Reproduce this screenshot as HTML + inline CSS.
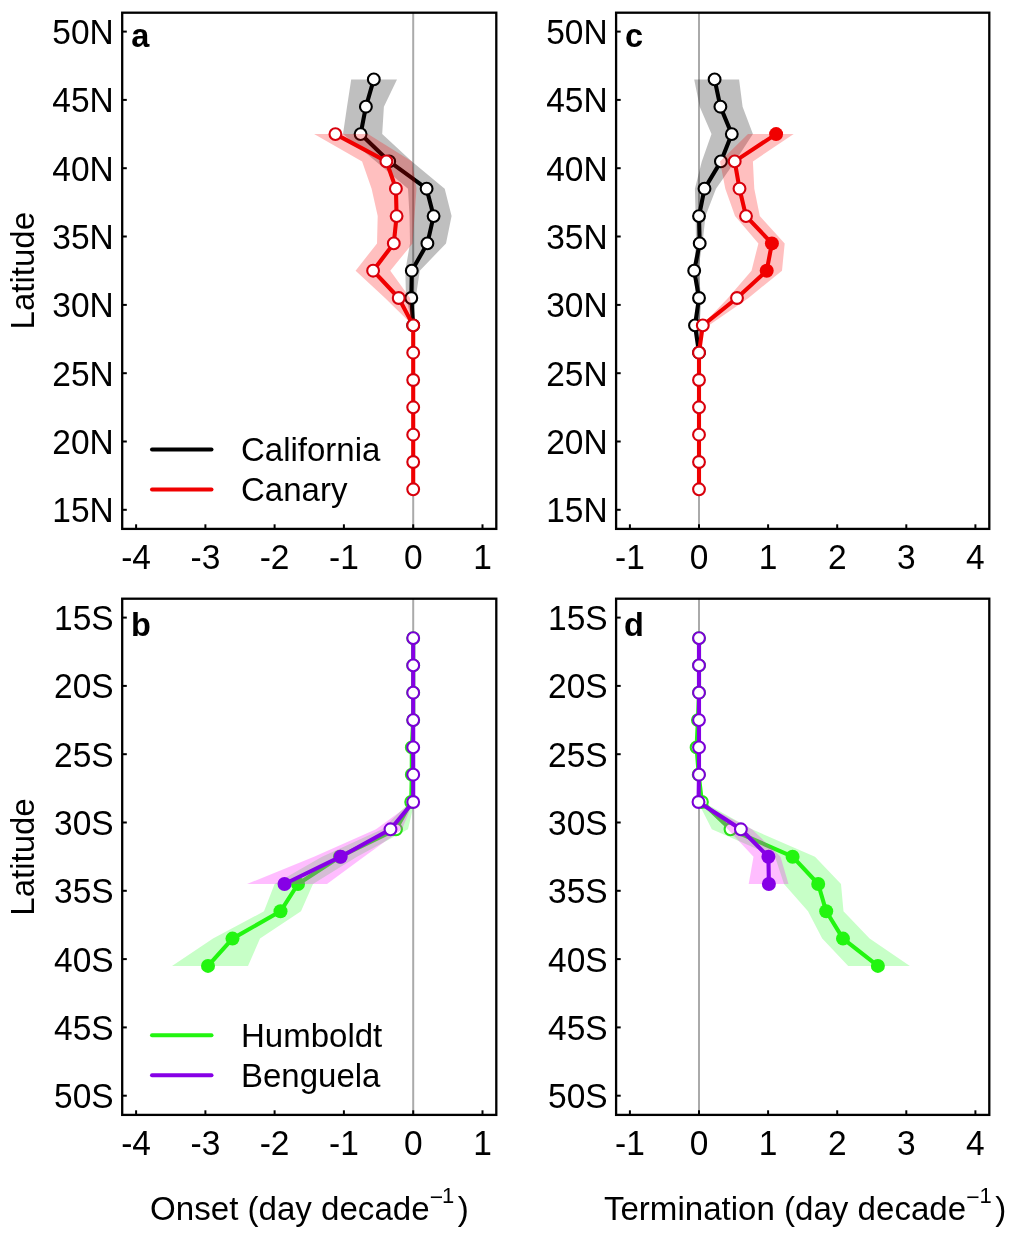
<!DOCTYPE html>
<html><head><meta charset="utf-8"><title>Upwelling onset and termination trends</title>
<style>html,body{margin:0;padding:0;background:#fff;}svg{display:block;}</style>
</head><body>
<svg width="1013" height="1237" viewBox="0 0 1013 1237">
<style>.t{font-family:"Liberation Sans", sans-serif;font-size:33.5px;fill:#000}.b{font-weight:bold;font-size:32.5px}.l{font-size:33px}.ti{font-size:33.1px}.m{font-size:23px}.s{font-size:22px}</style>
<rect width="1013" height="1237" fill="#fff"/>
<line x1="413.2" y1="12.7" x2="413.2" y2="528.9" stroke="#aaa" stroke-width="2"/>
<polygon points="351.2,79.4 347,106.7 343,134.1 376,161.4 408,188.7 409.5,216.1 410,243.4 405.3,270.7 406,298 413,325.4 413.5,325.4 415.7,298 419.8,270.7 446,243.4 451.6,216.1 444.7,188.7 411.9,161.4 382.2,134.1 383.9,106.7 397,79.4" fill="#000" fill-opacity="0.25"/>
<polyline points="373.8,79.4 365.9,106.7 360.6,134.1 389.2,161.4 426.6,188.7 433.6,216.1 427.4,243.4 411.8,270.7 411.3,298 413.2,325.4" fill="none" stroke="#000000" stroke-width="4.1" stroke-linejoin="round" stroke-linecap="round"/>
<circle cx="373.8" cy="79.4" r="5.9" fill="#fff" stroke="#000000" stroke-width="2.1"/>
<circle cx="365.9" cy="106.7" r="5.9" fill="#fff" stroke="#000000" stroke-width="2.1"/>
<circle cx="360.6" cy="134.1" r="5.9" fill="#fff" stroke="#000000" stroke-width="2.1"/>
<circle cx="389.2" cy="161.4" r="5.9" fill="#fff" stroke="#000000" stroke-width="2.1"/>
<circle cx="426.6" cy="188.7" r="5.9" fill="#fff" stroke="#000000" stroke-width="2.1"/>
<circle cx="433.6" cy="216.1" r="5.9" fill="#fff" stroke="#000000" stroke-width="2.1"/>
<circle cx="427.4" cy="243.4" r="5.9" fill="#fff" stroke="#000000" stroke-width="2.1"/>
<circle cx="411.8" cy="270.7" r="5.9" fill="#fff" stroke="#000000" stroke-width="2.1"/>
<circle cx="411.3" cy="298" r="5.9" fill="#fff" stroke="#000000" stroke-width="2.1"/>
<circle cx="413.2" cy="325.4" r="5.9" fill="#fff" stroke="#000000" stroke-width="2.1"/>
<polygon points="314.1,134.1 362.1,161.4 371.6,188.7 377.7,216.1 377,243.4 355.6,270.7 385,298 413,325.4 413.5,325.4 410,298 390.3,270.7 412.5,243.4 414.5,216.1 416.5,188.7 412,161.4 368,134.1" fill="#f00" fill-opacity="0.25"/>
<polyline points="335.4,134.1 386.4,161.4 395.9,188.7 396.6,216.1 393.8,243.4 373.1,270.7 398.7,298 413.2,325.4 413.2,352.7 413.2,380 413.2,407.3 413.2,434.7 413.2,462 413.2,489.3" fill="none" stroke="#f00000" stroke-width="4.1" stroke-linejoin="round" stroke-linecap="round"/>
<circle cx="335.4" cy="134.1" r="5.9" fill="#fff" stroke="#d8000c" stroke-width="2.1"/>
<circle cx="386.4" cy="161.4" r="5.9" fill="#fff" stroke="#d8000c" stroke-width="2.1"/>
<circle cx="395.9" cy="188.7" r="5.9" fill="#fff" stroke="#d8000c" stroke-width="2.1"/>
<circle cx="396.6" cy="216.1" r="5.9" fill="#fff" stroke="#d8000c" stroke-width="2.1"/>
<circle cx="393.8" cy="243.4" r="5.9" fill="#fff" stroke="#d8000c" stroke-width="2.1"/>
<circle cx="373.1" cy="270.7" r="5.9" fill="#fff" stroke="#d8000c" stroke-width="2.1"/>
<circle cx="398.7" cy="298" r="5.9" fill="#fff" stroke="#d8000c" stroke-width="2.1"/>
<circle cx="413.2" cy="325.4" r="5.9" fill="#fff" stroke="#d8000c" stroke-width="2.1"/>
<circle cx="413.2" cy="352.7" r="5.9" fill="#fff" stroke="#d8000c" stroke-width="2.1"/>
<circle cx="413.2" cy="380" r="5.9" fill="#fff" stroke="#d8000c" stroke-width="2.1"/>
<circle cx="413.2" cy="407.3" r="5.9" fill="#fff" stroke="#d8000c" stroke-width="2.1"/>
<circle cx="413.2" cy="434.7" r="5.9" fill="#fff" stroke="#d8000c" stroke-width="2.1"/>
<circle cx="413.2" cy="462" r="5.9" fill="#fff" stroke="#d8000c" stroke-width="2.1"/>
<circle cx="413.2" cy="489.3" r="5.9" fill="#fff" stroke="#d8000c" stroke-width="2.1"/>
<rect x="122.2" y="12.7" width="374.1" height="516.2" fill="none" stroke="#000" stroke-width="2.3"/>
<line x1="122.2" y1="31.6" x2="126.8" y2="31.6" stroke="#000" stroke-width="2"/>
<text transform="translate(113.7,44) scale(1,1.035)" text-anchor="end" class="t">50N</text>
<line x1="122.2" y1="99.9" x2="126.8" y2="99.9" stroke="#000" stroke-width="2"/>
<text transform="translate(113.7,112.3) scale(1,1.035)" text-anchor="end" class="t">45N</text>
<line x1="122.2" y1="168.2" x2="126.8" y2="168.2" stroke="#000" stroke-width="2"/>
<text transform="translate(113.7,180.6) scale(1,1.035)" text-anchor="end" class="t">40N</text>
<line x1="122.2" y1="236.5" x2="126.8" y2="236.5" stroke="#000" stroke-width="2"/>
<text transform="translate(113.7,248.9) scale(1,1.035)" text-anchor="end" class="t">35N</text>
<line x1="122.2" y1="304.9" x2="126.8" y2="304.9" stroke="#000" stroke-width="2"/>
<text transform="translate(113.7,317.3) scale(1,1.035)" text-anchor="end" class="t">30N</text>
<line x1="122.2" y1="373.2" x2="126.8" y2="373.2" stroke="#000" stroke-width="2"/>
<text transform="translate(113.7,385.6) scale(1,1.035)" text-anchor="end" class="t">25N</text>
<line x1="122.2" y1="441.5" x2="126.8" y2="441.5" stroke="#000" stroke-width="2"/>
<text transform="translate(113.7,453.9) scale(1,1.035)" text-anchor="end" class="t">20N</text>
<line x1="122.2" y1="509.8" x2="126.8" y2="509.8" stroke="#000" stroke-width="2"/>
<text transform="translate(113.7,522.2) scale(1,1.035)" text-anchor="end" class="t">15N</text>
<line x1="136.1" y1="528.9" x2="136.1" y2="524.3" stroke="#000" stroke-width="2"/>
<text transform="translate(136.1,568.9) scale(1,1.035)" text-anchor="middle" class="t">-4</text>
<line x1="205.4" y1="528.9" x2="205.4" y2="524.3" stroke="#000" stroke-width="2"/>
<text transform="translate(205.4,568.9) scale(1,1.035)" text-anchor="middle" class="t">-3</text>
<line x1="274.6" y1="528.9" x2="274.6" y2="524.3" stroke="#000" stroke-width="2"/>
<text transform="translate(274.6,568.9) scale(1,1.035)" text-anchor="middle" class="t">-2</text>
<line x1="343.9" y1="528.9" x2="343.9" y2="524.3" stroke="#000" stroke-width="2"/>
<text transform="translate(343.9,568.9) scale(1,1.035)" text-anchor="middle" class="t">-1</text>
<line x1="413.2" y1="528.9" x2="413.2" y2="524.3" stroke="#000" stroke-width="2"/>
<text transform="translate(413.2,568.9) scale(1,1.035)" text-anchor="middle" class="t">0</text>
<line x1="482.5" y1="528.9" x2="482.5" y2="524.3" stroke="#000" stroke-width="2"/>
<text transform="translate(482.5,568.9) scale(1,1.035)" text-anchor="middle" class="t">1</text>
<text x="131.2" y="46.9" class="t b">a</text>
<line x1="152" y1="449.5" x2="211.5" y2="449.5" stroke="#000" stroke-width="4" stroke-linecap="round"/>
<line x1="152" y1="489.4" x2="211.5" y2="489.4" stroke="#f00000" stroke-width="4" stroke-linecap="round"/>
<text x="241" y="461.3" class="t l">California</text>
<text x="241" y="501.3" class="t l">Canary</text>
<line x1="699" y1="12.7" x2="699" y2="528.9" stroke="#aaa" stroke-width="2"/>
<polygon points="694.2,79.4 699.7,106.7 711.5,134.1 701.8,161.4 694.9,188.7 695.6,216.1 696,243.4 693.5,270.7 696,298 697,325.4 699.5,325.4 701.5,298 698,270.7 702.5,243.4 705.5,216.1 716,188.7 735,161.4 752.9,134.1 742.6,106.7 739.1,79.4" fill="#000" fill-opacity="0.25"/>
<polyline points="714.6,79.4 720.4,106.7 731.8,134.1 720.9,161.4 704.5,188.7 699,216.1 699.7,243.4 694.2,270.7 699,298 695,325.4 699,352.7" fill="none" stroke="#000000" stroke-width="4.1" stroke-linejoin="round" stroke-linecap="round"/>
<circle cx="714.6" cy="79.4" r="5.9" fill="#fff" stroke="#000000" stroke-width="2.1"/>
<circle cx="720.4" cy="106.7" r="5.9" fill="#fff" stroke="#000000" stroke-width="2.1"/>
<circle cx="731.8" cy="134.1" r="5.9" fill="#fff" stroke="#000000" stroke-width="2.1"/>
<circle cx="720.9" cy="161.4" r="5.9" fill="#fff" stroke="#000000" stroke-width="2.1"/>
<circle cx="704.5" cy="188.7" r="5.9" fill="#fff" stroke="#000000" stroke-width="2.1"/>
<circle cx="699" cy="216.1" r="5.9" fill="#fff" stroke="#000000" stroke-width="2.1"/>
<circle cx="699.7" cy="243.4" r="5.9" fill="#fff" stroke="#000000" stroke-width="2.1"/>
<circle cx="694.2" cy="270.7" r="5.9" fill="#fff" stroke="#000000" stroke-width="2.1"/>
<circle cx="699" cy="298" r="5.9" fill="#fff" stroke="#000000" stroke-width="2.1"/>
<circle cx="695" cy="325.4" r="5.9" fill="#fff" stroke="#000000" stroke-width="2.1"/>
<circle cx="699" cy="352.7" r="5.9" fill="#fff" stroke="#000000" stroke-width="2.1"/>
<polygon points="748,134.1 720,161.4 725.3,188.7 735,216.1 758.4,243.4 751.5,270.7 728,298 701.8,325.4 708.7,325.4 748.5,298 782,270.7 784.7,243.4 759.8,216.1 754.3,188.7 752.9,161.4 793.7,134.1" fill="#f00" fill-opacity="0.25"/>
<polyline points="776.1,134.1 734.7,161.4 739.5,188.7 746,216.1 771.9,243.4 766.7,270.7 737,298 702.8,325.4 699,352.7 699,380 699,407.3 699,434.7 699,462 699,489.3" fill="none" stroke="#f00000" stroke-width="4.1" stroke-linejoin="round" stroke-linecap="round"/>
<circle cx="776.1" cy="134.1" r="7" fill="#f00000"/>
<circle cx="734.7" cy="161.4" r="5.9" fill="#fff" stroke="#d8000c" stroke-width="2.1"/>
<circle cx="739.5" cy="188.7" r="5.9" fill="#fff" stroke="#d8000c" stroke-width="2.1"/>
<circle cx="746" cy="216.1" r="5.9" fill="#fff" stroke="#d8000c" stroke-width="2.1"/>
<circle cx="771.9" cy="243.4" r="7" fill="#f00000"/>
<circle cx="766.7" cy="270.7" r="7" fill="#f00000"/>
<circle cx="737" cy="298" r="5.9" fill="#fff" stroke="#d8000c" stroke-width="2.1"/>
<circle cx="702.8" cy="325.4" r="5.9" fill="#fff" stroke="#d8000c" stroke-width="2.1"/>
<circle cx="699" cy="352.7" r="5.9" fill="#fff" stroke="#d8000c" stroke-width="2.1"/>
<circle cx="699" cy="380" r="5.9" fill="#fff" stroke="#d8000c" stroke-width="2.1"/>
<circle cx="699" cy="407.3" r="5.9" fill="#fff" stroke="#d8000c" stroke-width="2.1"/>
<circle cx="699" cy="434.7" r="5.9" fill="#fff" stroke="#d8000c" stroke-width="2.1"/>
<circle cx="699" cy="462" r="5.9" fill="#fff" stroke="#d8000c" stroke-width="2.1"/>
<circle cx="699" cy="489.3" r="5.9" fill="#fff" stroke="#d8000c" stroke-width="2.1"/>
<rect x="616.1" y="12.7" width="373.2" height="516.2" fill="none" stroke="#000" stroke-width="2.3"/>
<line x1="616.1" y1="31.6" x2="620.7" y2="31.6" stroke="#000" stroke-width="2"/>
<text transform="translate(607.6,44) scale(1,1.035)" text-anchor="end" class="t">50N</text>
<line x1="616.1" y1="99.9" x2="620.7" y2="99.9" stroke="#000" stroke-width="2"/>
<text transform="translate(607.6,112.3) scale(1,1.035)" text-anchor="end" class="t">45N</text>
<line x1="616.1" y1="168.2" x2="620.7" y2="168.2" stroke="#000" stroke-width="2"/>
<text transform="translate(607.6,180.6) scale(1,1.035)" text-anchor="end" class="t">40N</text>
<line x1="616.1" y1="236.5" x2="620.7" y2="236.5" stroke="#000" stroke-width="2"/>
<text transform="translate(607.6,248.9) scale(1,1.035)" text-anchor="end" class="t">35N</text>
<line x1="616.1" y1="304.9" x2="620.7" y2="304.9" stroke="#000" stroke-width="2"/>
<text transform="translate(607.6,317.3) scale(1,1.035)" text-anchor="end" class="t">30N</text>
<line x1="616.1" y1="373.2" x2="620.7" y2="373.2" stroke="#000" stroke-width="2"/>
<text transform="translate(607.6,385.6) scale(1,1.035)" text-anchor="end" class="t">25N</text>
<line x1="616.1" y1="441.5" x2="620.7" y2="441.5" stroke="#000" stroke-width="2"/>
<text transform="translate(607.6,453.9) scale(1,1.035)" text-anchor="end" class="t">20N</text>
<line x1="616.1" y1="509.8" x2="620.7" y2="509.8" stroke="#000" stroke-width="2"/>
<text transform="translate(607.6,522.2) scale(1,1.035)" text-anchor="end" class="t">15N</text>
<line x1="629.9" y1="528.9" x2="629.9" y2="524.3" stroke="#000" stroke-width="2"/>
<text transform="translate(629.9,568.9) scale(1,1.035)" text-anchor="middle" class="t">-1</text>
<line x1="699" y1="528.9" x2="699" y2="524.3" stroke="#000" stroke-width="2"/>
<text transform="translate(699,568.9) scale(1,1.035)" text-anchor="middle" class="t">0</text>
<line x1="768.1" y1="528.9" x2="768.1" y2="524.3" stroke="#000" stroke-width="2"/>
<text transform="translate(768.1,568.9) scale(1,1.035)" text-anchor="middle" class="t">1</text>
<line x1="837.2" y1="528.9" x2="837.2" y2="524.3" stroke="#000" stroke-width="2"/>
<text transform="translate(837.2,568.9) scale(1,1.035)" text-anchor="middle" class="t">2</text>
<line x1="906.3" y1="528.9" x2="906.3" y2="524.3" stroke="#000" stroke-width="2"/>
<text transform="translate(906.3,568.9) scale(1,1.035)" text-anchor="middle" class="t">3</text>
<line x1="975.4" y1="528.9" x2="975.4" y2="524.3" stroke="#000" stroke-width="2"/>
<text transform="translate(975.4,568.9) scale(1,1.035)" text-anchor="middle" class="t">4</text>
<text x="625" y="47" class="t b">c</text>
<line x1="413.2" y1="598.7" x2="413.2" y2="1114.9" stroke="#aaa" stroke-width="2"/>
<polygon points="413.2,638.1 413.2,665.4 413.2,692.7 413.2,720.1 413.2,747.4 413.2,774.7 410,802 382,829.3 322,856.7 274.6,884 264,911.3 213,938.6 172,965.9 248,965.9 260,938.6 301,911.3 313,884 357,856.7 408,829.3 414.5,802 413.2,774.7 413.2,747.4 413.2,720.1 413.2,692.7 413.2,665.4 413.2,638.1" fill="#0f0" fill-opacity="0.22"/>
<polyline points="413.2,638.1 413.2,665.4 413.2,692.7 413.2,720.1 411.8,747.4 411.8,774.7 411.2,802 396,829.3 340,856.7 298,884 280.5,911.3 232.5,938.6 208,965.9" fill="none" stroke="#22f510" stroke-width="4.1" stroke-linejoin="round" stroke-linecap="round"/>
<circle cx="413.2" cy="638.1" r="5.9" fill="#fff" stroke="#2ae018" stroke-width="2.1"/>
<circle cx="413.2" cy="665.4" r="5.9" fill="#fff" stroke="#2ae018" stroke-width="2.1"/>
<circle cx="413.2" cy="692.7" r="5.9" fill="#fff" stroke="#2ae018" stroke-width="2.1"/>
<circle cx="413.2" cy="720.1" r="5.9" fill="#fff" stroke="#2ae018" stroke-width="2.1"/>
<circle cx="411.8" cy="747.4" r="5.9" fill="#fff" stroke="#2ae018" stroke-width="2.1"/>
<circle cx="411.8" cy="774.7" r="5.9" fill="#fff" stroke="#2ae018" stroke-width="2.1"/>
<circle cx="411.2" cy="802" r="5.9" fill="#fff" stroke="#2ae018" stroke-width="2.1"/>
<circle cx="396" cy="829.3" r="5.9" fill="#fff" stroke="#2ae018" stroke-width="2.1"/>
<circle cx="340" cy="856.7" r="7" fill="#22f510"/>
<circle cx="298" cy="884" r="7" fill="#22f510"/>
<circle cx="280.5" cy="911.3" r="7" fill="#22f510"/>
<circle cx="232.5" cy="938.6" r="7" fill="#22f510"/>
<circle cx="208" cy="965.9" r="7" fill="#22f510"/>
<polygon points="413.2,638.1 413.2,665.4 413.2,692.7 413.2,720.1 413.2,747.4 413.2,774.7 413.2,802 376,829.3 314,856.7 247,884 327,884 364,856.7 402,829.3 413.2,802 413.2,774.7 413.2,747.4 413.2,720.1 413.2,692.7 413.2,665.4 413.2,638.1" fill="#ff00ff" fill-opacity="0.26"/>
<polyline points="413.2,638.1 413.2,665.4 413.2,692.7 413.2,720.1 413.2,747.4 413.2,774.7 413.2,802 390.5,829.3 340.7,856.7 284.5,884" fill="none" stroke="#8600e6" stroke-width="4.1" stroke-linejoin="round" stroke-linecap="round"/>
<circle cx="413.2" cy="638.1" r="5.9" fill="#fff" stroke="#7a00d6" stroke-width="2.1"/>
<circle cx="413.2" cy="665.4" r="5.9" fill="#fff" stroke="#7a00d6" stroke-width="2.1"/>
<circle cx="413.2" cy="692.7" r="5.9" fill="#fff" stroke="#7a00d6" stroke-width="2.1"/>
<circle cx="413.2" cy="720.1" r="5.9" fill="#fff" stroke="#7a00d6" stroke-width="2.1"/>
<circle cx="413.2" cy="747.4" r="5.9" fill="#fff" stroke="#7a00d6" stroke-width="2.1"/>
<circle cx="413.2" cy="774.7" r="5.9" fill="#fff" stroke="#7a00d6" stroke-width="2.1"/>
<circle cx="413.2" cy="802" r="5.9" fill="#fff" stroke="#7a00d6" stroke-width="2.1"/>
<circle cx="390.5" cy="829.3" r="5.9" fill="#fff" stroke="#7a00d6" stroke-width="2.1"/>
<circle cx="340.7" cy="856.7" r="7" fill="#8600e6"/>
<circle cx="284.5" cy="884" r="7" fill="#8600e6"/>
<rect x="122.2" y="598.7" width="374.1" height="516.2" fill="none" stroke="#000" stroke-width="2.3"/>
<line x1="122.2" y1="617.6" x2="126.8" y2="617.6" stroke="#000" stroke-width="2"/>
<text transform="translate(113.7,630) scale(1,1.035)" text-anchor="end" class="t">15S</text>
<line x1="122.2" y1="685.9" x2="126.8" y2="685.9" stroke="#000" stroke-width="2"/>
<text transform="translate(113.7,698.3) scale(1,1.035)" text-anchor="end" class="t">20S</text>
<line x1="122.2" y1="754.2" x2="126.8" y2="754.2" stroke="#000" stroke-width="2"/>
<text transform="translate(113.7,766.6) scale(1,1.035)" text-anchor="end" class="t">25S</text>
<line x1="122.2" y1="822.5" x2="126.8" y2="822.5" stroke="#000" stroke-width="2"/>
<text transform="translate(113.7,834.9) scale(1,1.035)" text-anchor="end" class="t">30S</text>
<line x1="122.2" y1="890.8" x2="126.8" y2="890.8" stroke="#000" stroke-width="2"/>
<text transform="translate(113.7,903.2) scale(1,1.035)" text-anchor="end" class="t">35S</text>
<line x1="122.2" y1="959.1" x2="126.8" y2="959.1" stroke="#000" stroke-width="2"/>
<text transform="translate(113.7,971.5) scale(1,1.035)" text-anchor="end" class="t">40S</text>
<line x1="122.2" y1="1027.4" x2="126.8" y2="1027.4" stroke="#000" stroke-width="2"/>
<text transform="translate(113.7,1039.8) scale(1,1.035)" text-anchor="end" class="t">45S</text>
<line x1="122.2" y1="1095.7" x2="126.8" y2="1095.7" stroke="#000" stroke-width="2"/>
<text transform="translate(113.7,1108.1) scale(1,1.035)" text-anchor="end" class="t">50S</text>
<line x1="136.1" y1="1114.9" x2="136.1" y2="1110.3" stroke="#000" stroke-width="2"/>
<text transform="translate(136.1,1154.9) scale(1,1.035)" text-anchor="middle" class="t">-4</text>
<line x1="205.4" y1="1114.9" x2="205.4" y2="1110.3" stroke="#000" stroke-width="2"/>
<text transform="translate(205.4,1154.9) scale(1,1.035)" text-anchor="middle" class="t">-3</text>
<line x1="274.6" y1="1114.9" x2="274.6" y2="1110.3" stroke="#000" stroke-width="2"/>
<text transform="translate(274.6,1154.9) scale(1,1.035)" text-anchor="middle" class="t">-2</text>
<line x1="343.9" y1="1114.9" x2="343.9" y2="1110.3" stroke="#000" stroke-width="2"/>
<text transform="translate(343.9,1154.9) scale(1,1.035)" text-anchor="middle" class="t">-1</text>
<line x1="413.2" y1="1114.9" x2="413.2" y2="1110.3" stroke="#000" stroke-width="2"/>
<text transform="translate(413.2,1154.9) scale(1,1.035)" text-anchor="middle" class="t">0</text>
<line x1="482.5" y1="1114.9" x2="482.5" y2="1110.3" stroke="#000" stroke-width="2"/>
<text transform="translate(482.5,1154.9) scale(1,1.035)" text-anchor="middle" class="t">1</text>
<text x="131" y="635.8" class="t b">b</text>
<line x1="152" y1="1035.3" x2="211.5" y2="1035.3" stroke="#22f510" stroke-width="4" stroke-linecap="round"/>
<line x1="152" y1="1075.3" x2="211.5" y2="1075.3" stroke="#8600e6" stroke-width="4" stroke-linecap="round"/>
<text x="241" y="1047.1" class="t l">Humboldt</text>
<text x="241" y="1087.1" class="t l">Benguela</text>
<line x1="699" y1="598.7" x2="699" y2="1114.9" stroke="#aaa" stroke-width="2"/>
<polygon points="699,638.1 699,665.4 699,692.7 699,720.1 699,747.4 699,774.7 698,802 711.8,829.3 775,856.7 784,884 808,911.3 822.2,938.6 848.2,965.9 909.9,965.9 869.6,938.6 843.5,911.3 841,884 815,856.7 752,829.3 703,802 699,774.7 699,747.4 699,720.1 699,692.7 699,665.4 699,638.1" fill="#0f0" fill-opacity="0.22"/>
<polyline points="699,638.1 699,665.4 699,692.7 697.9,720.1 696.6,747.4 698.7,774.7 701.9,802 730.5,829.3 792.6,856.7 818.2,884 826.2,911.3 843,938.6 877.9,965.9" fill="none" stroke="#22f510" stroke-width="4.1" stroke-linejoin="round" stroke-linecap="round"/>
<circle cx="699" cy="638.1" r="5.9" fill="#fff" stroke="#2ae018" stroke-width="2.1"/>
<circle cx="699" cy="665.4" r="5.9" fill="#fff" stroke="#2ae018" stroke-width="2.1"/>
<circle cx="699" cy="692.7" r="5.9" fill="#fff" stroke="#2ae018" stroke-width="2.1"/>
<circle cx="697.9" cy="720.1" r="5.9" fill="#fff" stroke="#2ae018" stroke-width="2.1"/>
<circle cx="696.6" cy="747.4" r="5.9" fill="#fff" stroke="#2ae018" stroke-width="2.1"/>
<circle cx="698.7" cy="774.7" r="5.9" fill="#fff" stroke="#2ae018" stroke-width="2.1"/>
<circle cx="701.9" cy="802" r="5.9" fill="#fff" stroke="#2ae018" stroke-width="2.1"/>
<circle cx="730.5" cy="829.3" r="5.9" fill="#fff" stroke="#2ae018" stroke-width="2.1"/>
<circle cx="792.6" cy="856.7" r="7" fill="#22f510"/>
<circle cx="818.2" cy="884" r="7" fill="#22f510"/>
<circle cx="826.2" cy="911.3" r="7" fill="#22f510"/>
<circle cx="843" cy="938.6" r="7" fill="#22f510"/>
<circle cx="877.9" cy="965.9" r="7" fill="#22f510"/>
<polygon points="699,638.1 699,665.4 699,692.7 699,720.1 699,747.4 699,774.7 699,802 727.8,829.3 753.5,856.7 748.7,884 788.5,884 780.5,856.7 752,829.3 699,802 699,774.7 699,747.4 699,720.1 699,692.7 699,665.4 699,638.1" fill="#ff00ff" fill-opacity="0.26"/>
<polyline points="699,638.1 699,665.4 699,692.7 699,720.1 699,747.4 699,774.7 698.5,802 740.9,829.3 768.4,856.7 768.9,884" fill="none" stroke="#8600e6" stroke-width="4.1" stroke-linejoin="round" stroke-linecap="round"/>
<circle cx="699" cy="638.1" r="5.9" fill="#fff" stroke="#7a00d6" stroke-width="2.1"/>
<circle cx="699" cy="665.4" r="5.9" fill="#fff" stroke="#7a00d6" stroke-width="2.1"/>
<circle cx="699" cy="692.7" r="5.9" fill="#fff" stroke="#7a00d6" stroke-width="2.1"/>
<circle cx="699" cy="720.1" r="5.9" fill="#fff" stroke="#7a00d6" stroke-width="2.1"/>
<circle cx="699" cy="747.4" r="5.9" fill="#fff" stroke="#7a00d6" stroke-width="2.1"/>
<circle cx="699" cy="774.7" r="5.9" fill="#fff" stroke="#7a00d6" stroke-width="2.1"/>
<circle cx="698.5" cy="802" r="5.9" fill="#fff" stroke="#7a00d6" stroke-width="2.1"/>
<circle cx="740.9" cy="829.3" r="5.9" fill="#fff" stroke="#7a00d6" stroke-width="2.1"/>
<circle cx="768.4" cy="856.7" r="7" fill="#8600e6"/>
<circle cx="768.9" cy="884" r="7" fill="#8600e6"/>
<rect x="616.1" y="598.7" width="373.2" height="516.2" fill="none" stroke="#000" stroke-width="2.3"/>
<line x1="616.1" y1="617.6" x2="620.7" y2="617.6" stroke="#000" stroke-width="2"/>
<text transform="translate(607.6,630) scale(1,1.035)" text-anchor="end" class="t">15S</text>
<line x1="616.1" y1="685.9" x2="620.7" y2="685.9" stroke="#000" stroke-width="2"/>
<text transform="translate(607.6,698.3) scale(1,1.035)" text-anchor="end" class="t">20S</text>
<line x1="616.1" y1="754.2" x2="620.7" y2="754.2" stroke="#000" stroke-width="2"/>
<text transform="translate(607.6,766.6) scale(1,1.035)" text-anchor="end" class="t">25S</text>
<line x1="616.1" y1="822.5" x2="620.7" y2="822.5" stroke="#000" stroke-width="2"/>
<text transform="translate(607.6,834.9) scale(1,1.035)" text-anchor="end" class="t">30S</text>
<line x1="616.1" y1="890.8" x2="620.7" y2="890.8" stroke="#000" stroke-width="2"/>
<text transform="translate(607.6,903.2) scale(1,1.035)" text-anchor="end" class="t">35S</text>
<line x1="616.1" y1="959.1" x2="620.7" y2="959.1" stroke="#000" stroke-width="2"/>
<text transform="translate(607.6,971.5) scale(1,1.035)" text-anchor="end" class="t">40S</text>
<line x1="616.1" y1="1027.4" x2="620.7" y2="1027.4" stroke="#000" stroke-width="2"/>
<text transform="translate(607.6,1039.8) scale(1,1.035)" text-anchor="end" class="t">45S</text>
<line x1="616.1" y1="1095.7" x2="620.7" y2="1095.7" stroke="#000" stroke-width="2"/>
<text transform="translate(607.6,1108.1) scale(1,1.035)" text-anchor="end" class="t">50S</text>
<line x1="629.9" y1="1114.9" x2="629.9" y2="1110.3" stroke="#000" stroke-width="2"/>
<text transform="translate(629.9,1154.9) scale(1,1.035)" text-anchor="middle" class="t">-1</text>
<line x1="699" y1="1114.9" x2="699" y2="1110.3" stroke="#000" stroke-width="2"/>
<text transform="translate(699,1154.9) scale(1,1.035)" text-anchor="middle" class="t">0</text>
<line x1="768.1" y1="1114.9" x2="768.1" y2="1110.3" stroke="#000" stroke-width="2"/>
<text transform="translate(768.1,1154.9) scale(1,1.035)" text-anchor="middle" class="t">1</text>
<line x1="837.2" y1="1114.9" x2="837.2" y2="1110.3" stroke="#000" stroke-width="2"/>
<text transform="translate(837.2,1154.9) scale(1,1.035)" text-anchor="middle" class="t">2</text>
<line x1="906.3" y1="1114.9" x2="906.3" y2="1110.3" stroke="#000" stroke-width="2"/>
<text transform="translate(906.3,1154.9) scale(1,1.035)" text-anchor="middle" class="t">3</text>
<line x1="975.4" y1="1114.9" x2="975.4" y2="1110.3" stroke="#000" stroke-width="2"/>
<text transform="translate(975.4,1154.9) scale(1,1.035)" text-anchor="middle" class="t">4</text>
<text x="624" y="636" class="t b">d</text>
<text transform="translate(34,270.7) rotate(-90)" text-anchor="middle" class="t l">Latitude</text>
<text transform="translate(34,857) rotate(-90)" text-anchor="middle" class="t l">Latitude</text>
<text x="150.1" y="1220.3" class="t ti">Onset (day decade<tspan class="m" x="429.7" y="1204.9">−</tspan><tspan class="s" x="442.1" y="1203.2">1</tspan><tspan x="457.8" y="1220.3">)</tspan></text>
<text x="603.9" y="1220.3" class="t ti">Termination (day decade<tspan class="m" x="966.2" y="1204.9">−</tspan><tspan class="s" x="979.5" y="1203.2">1</tspan><tspan x="995.3" y="1220.3">)</tspan></text>
</svg>
</body></html>
